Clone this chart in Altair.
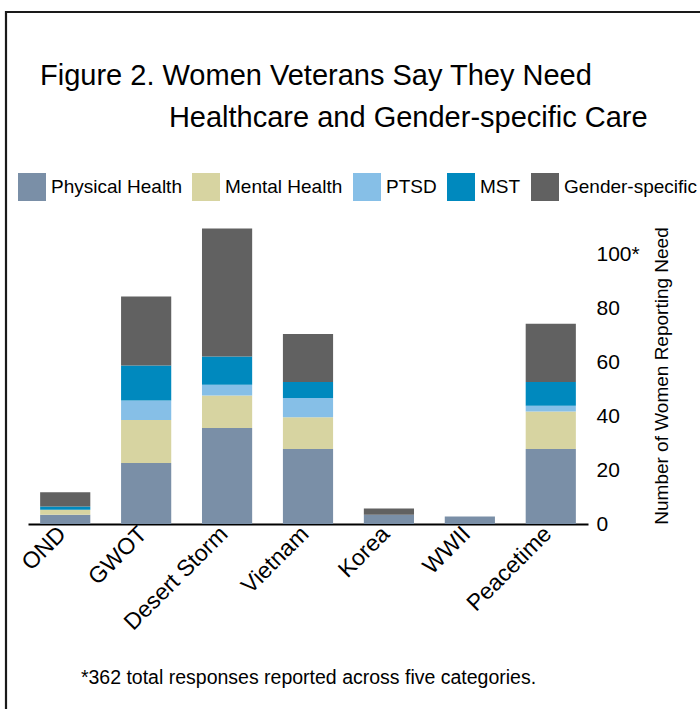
import altair as alt
import pandas as pd

categories = ["OND", "GWOT", "Desert Storm", "Vietnam", "Korea", "WWII", "Peacetime"]
series = ["Physical Health", "Mental Health", "PTSD", "MST", "Gender-specific"]
colors = ["#7a8fa7", "#d7d4a1", "#86bfe7", "#0089be", "#616161"]

physical = [3.4, 22.6, 35.6, 27.8, 3.4, 2.8, 27.8]
mental = [1.9, 15.9, 12.0, 11.7, 0.0, 0.0, 13.9]
ptsd = [0.0, 7.2, 4.0, 7.2, 0.0, 0.0, 2.1]
mst = [1.2, 13.0, 10.4, 5.9, 0.0, 0.0, 8.8]
gender = [5.3, 25.6, 47.4, 17.8, 2.3, 0.0, 21.6]

y_ticks = [0, 20, 40, 60, 80, 100]

title_lines = ["Figure 2. Women Veterans Say They Need",
               "\u200b" + "\u00a0" * 16 + "Healthcare and Gender-specific Care"]
footnote = "*362 total responses reported across five categories."
y_title = "Number of Women Reporting Need"

rows = []
for si, (name, vals) in enumerate(zip(series, [physical, mental, ptsd, mst, gender])):
    for c, v in zip(categories, vals):
        rows.append({"period": c, "need": name, "idx": si, "value": v})
df = pd.DataFrame(rows)

FONT = "Liberation Sans"

bars = alt.Chart(df).mark_bar().encode(
    x=alt.X("period:N", sort=categories,
            scale=alt.Scale(paddingInner=0.38, paddingOuter=0.15),
            axis=alt.Axis(title=footnote, labelAngle=315, labelFontSize=23,
                          labelAlign="right", labelBaseline="middle",
                          labelOffset=-3, labelPadding=6, ticks=False,
                          domainColor="#000000", domainWidth=1.8,
                          labelColor="#000000", titleFontSize=19.5,
                          titleFontWeight="normal", titleColor="#000000",
                          titlePadding=34)),
    y=alt.Y("value:Q", stack="zero",
            scale=alt.Scale(domain=[0, 110], nice=False),
            axis=alt.Axis(orient="right", values=y_ticks, grid=False,
                          domain=False, ticks=False, labelFontSize=21,
                          labelColor="#000000", labelPadding=8,
                          labelExpr="datum.value == 100 ? '100*' : datum.label",
                          title=y_title, titleAngle=270, titleFontSize=19,
                          titleBaseline="top",
                          titleFontWeight="normal", titleColor="#000000",
                          titlePadding=13)),
    color=alt.Color("need:N", sort=series,
                    scale=alt.Scale(domain=series, range=colors),
                    legend=alt.Legend(title=None, orient="none", direction="horizontal",
                                      legendX=-10, legendY=-54,
                                      symbolType="square", symbolSize=784,
                                      symbolStrokeWidth=0, symbolOpacity=1,
                                      labelFontSize=19, labelColor="#000000",
                                      labelOffset=5, columnPadding=10)),
    order=alt.Order("idx:Q", sort="ascending"),
)

frame = alt.Chart(alt.Data(values=[{"k": 1}])).mark_rect(
    fillOpacity=0, stroke="#1a1a1a", strokeWidth=2.2
).encode(
    x=alt.value(-22), x2=alt.value(760),
    y=alt.value(-215), y2=alt.value(560),
)

chart = alt.layer(bars, frame).properties(
    width=560, height=297,
    padding={"left": 28, "top": 227, "right": 112, "bottom": 185},
    autosize=alt.AutoSizeParams(type="none"),
    title=alt.TitleParams(text=title_lines, anchor="start", frame="group",
                          fontSize=29, fontWeight="normal", color="#000000",
                          lineHeight=42, dx=12, offset=-122),
).configure(font=FONT).configure_view(stroke=None)

chart.save("out.html", embed_options={"renderer": "svg", "actions": False})
